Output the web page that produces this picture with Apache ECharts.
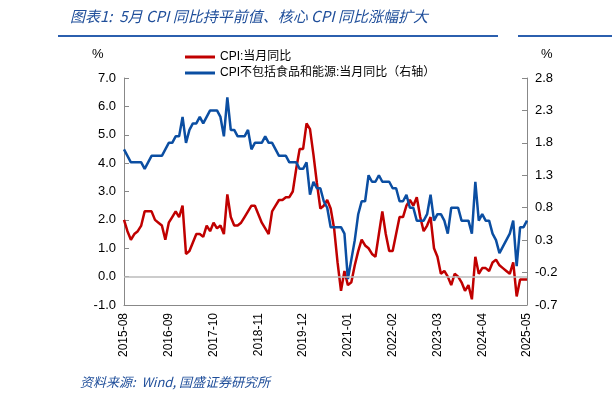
<!DOCTYPE html>
<html>
<head>
    <meta charset="utf-8">
    <script src="https://cdn.jsdelivr.net/npm/echarts@6/dist/echarts.min.js"></script>
    <style>body{margin:0;background:#fff}</style>
</head>
<body>
    <div id="chart" style="width: 612px; height: 410px;"></div>
    <script>
        var months = [];
        for (var y = 2015; y <= 2025; y++) {
            for (var m = 1; m <= 12; m++) {
                if ((y === 2015 && m < 8) || (y === 2025 && m > 5)) continue;
                months.push(y + '-' + (m < 10 ? '0' + m : m));
            }
        }
        var cpi = [2.0,1.6,1.3,1.5,1.6,
            1.8,2.3,2.3,2.3,2.0,1.9,1.8,1.3,1.9,2.1,2.3,2.1,
            2.5,0.8,0.9,1.2,1.5,1.5,1.4,1.8,1.6,1.9,1.7,1.8,
            1.5,2.9,2.1,1.8,1.8,1.9,2.1,2.3,2.5,2.5,2.2,1.9,
            1.7,1.5,2.3,2.5,2.7,2.7,2.8,2.8,3.0,3.8,4.5,4.5,
            5.4,5.2,4.3,3.3,2.4,2.5,2.7,2.4,1.7,0.5,-0.5,0.2,
            -0.3,-0.2,0.4,0.9,1.3,1.1,1.0,0.8,0.7,1.5,2.3,1.5,
            0.9,0.9,1.5,2.1,2.1,2.5,2.7,2.5,2.8,2.1,1.6,1.8,
            2.1,1.0,0.7,0.1,0.2,0.0,-0.3,0.1,0.0,-0.2,-0.5,-0.3,
            -0.8,0.7,0.1,0.3,0.3,0.2,0.5,0.6,0.4,0.3,0.2,0.1,
            0.5,-0.7,-0.1,-0.1,-0.1];
        var core = [1.7,1.6,1.5,1.5,1.5,
            1.5,1.4,1.5,1.6,1.6,1.6,1.6,1.7,1.8,1.8,1.9,1.9,
            2.2,1.8,2.0,2.1,2.1,2.2,2.1,2.2,2.3,2.3,2.3,2.2,
            1.9,2.5,2.0,2.0,1.9,1.9,1.9,2.0,1.7,1.8,1.8,1.8,
            1.9,1.8,1.8,1.7,1.6,1.6,1.6,1.5,1.5,1.5,1.4,1.4,
            1.5,1.0,1.2,1.1,1.1,0.9,0.8,0.5,0.5,0.5,0.5,0.4,
            -0.3,0.0,0.3,0.7,0.9,0.9,1.3,1.2,1.2,1.3,1.2,1.2,
            1.2,1.1,1.1,0.9,0.9,1.0,0.8,0.8,0.6,0.6,0.6,0.7,
            1.0,0.6,0.7,0.7,0.6,0.4,0.8,0.8,0.8,0.6,0.6,0.6,
            0.4,1.2,0.6,0.7,0.6,0.6,0.4,0.3,0.1,0.2,0.3,0.4,
            0.6,-0.1,0.5,0.5,0.6];

        var chart = echarts.init(document.querySelector("#chart"));
        var font = 'Liberation Sans, Noto Sans CJK SC, sans-serif';
        var option = {
            animation: false,
            textStyle: { fontFamily: font },
            graphic: [
                { type: 'text', left: 70, top: 9, style: { text: '图表1:  5月 CPI 同比持平前值、核心 CPI 同比涨幅扩大', fill: '#1f4e9a', font: 'italic 15px "Noto Sans CJK SC", sans-serif' } },
                { type: 'line', shape: { x1: 58, y1: 36, x2: 498, y2: 36 }, style: { stroke: '#2b5fae', lineWidth: 2 } },
                { type: 'line', shape: { x1: 518, y1: 36, x2: 612, y2: 36 }, style: { stroke: '#2b5fae', lineWidth: 2 } },
                { type: 'text', left: 80, top: 376, style: { text: '资料来源:  Wind, 国盛证券研究所', fill: '#1f4e9a', font: 'italic 13px "Noto Sans CJK SC", sans-serif' } },
                { type: 'text', left: 92, top: 48, style: { text: '%', fill: '#000', font: '13px ' + font } },
                { type: 'text', left: 541, top: 48, style: { text: '%', fill: '#000', font: '13px ' + font } }
            ],
            legend: {
                orient: 'vertical', left: 180, top: 46, itemGap: 4,
                itemWidth: 30, itemHeight: 3, icon: 'rect',
                textStyle: { fontSize: 12, color: '#000' },
                data: ['CPI:当月同比', 'CPI不包括食品和能源:当月同比（右轴）']
            },
            grid: { left: 124, right: 85, top: 78, bottom: 105 },
            xAxis: {
                type: 'category', data: months, boundaryGap: false,
                axisLine: { onZero: false, lineStyle: { color: '#888' } },
                axisTick: { show: false },
                axisLabel: { rotate: 90, interval: 12, color: '#000', fontSize: 12 }
            },
            yAxis: [
                { type: 'value', min: -1, max: 7, interval: 1,
                  splitLine: { show: false },
                  axisLine: { show: true, lineStyle: { color: '#888' } },
                  axisTick: { show: true, inside: true },
                  axisLabel: { color: '#000', fontSize: 13, formatter: function (v) { return v.toFixed(1); } } },
                { type: 'value', min: -0.7, max: 2.8, interval: 0.5,
                  splitLine: { show: false },
                  axisLine: { show: true, lineStyle: { color: '#888' } },
                  axisTick: { show: true, inside: true },
                  axisLabel: { color: '#000', fontSize: 13, formatter: function (v) { return v.toFixed(1); } } }
            ],
            series: [
                { name: 'CPI:当月同比', type: 'line', data: cpi, symbol: 'none',
                  lineStyle: { color: '#c00000', width: 2.5 }, itemStyle: { color: '#c00000' },
                  markLine: { symbol: 'none', silent: true, label: { show: false },
                    lineStyle: { color: '#bbb', type: 'solid', width: 1.5 }, data: [{ yAxis: 0 }] } },
                { name: 'CPI不包括食品和能源:当月同比（右轴）', type: 'line', yAxisIndex: 1, data: core, symbol: 'none',
                  lineStyle: { color: '#0b4ea2', width: 2.5 }, itemStyle: { color: '#0b4ea2' } }
            ]
        };
        chart.setOption(option);
    </script>
</body>
</html>
